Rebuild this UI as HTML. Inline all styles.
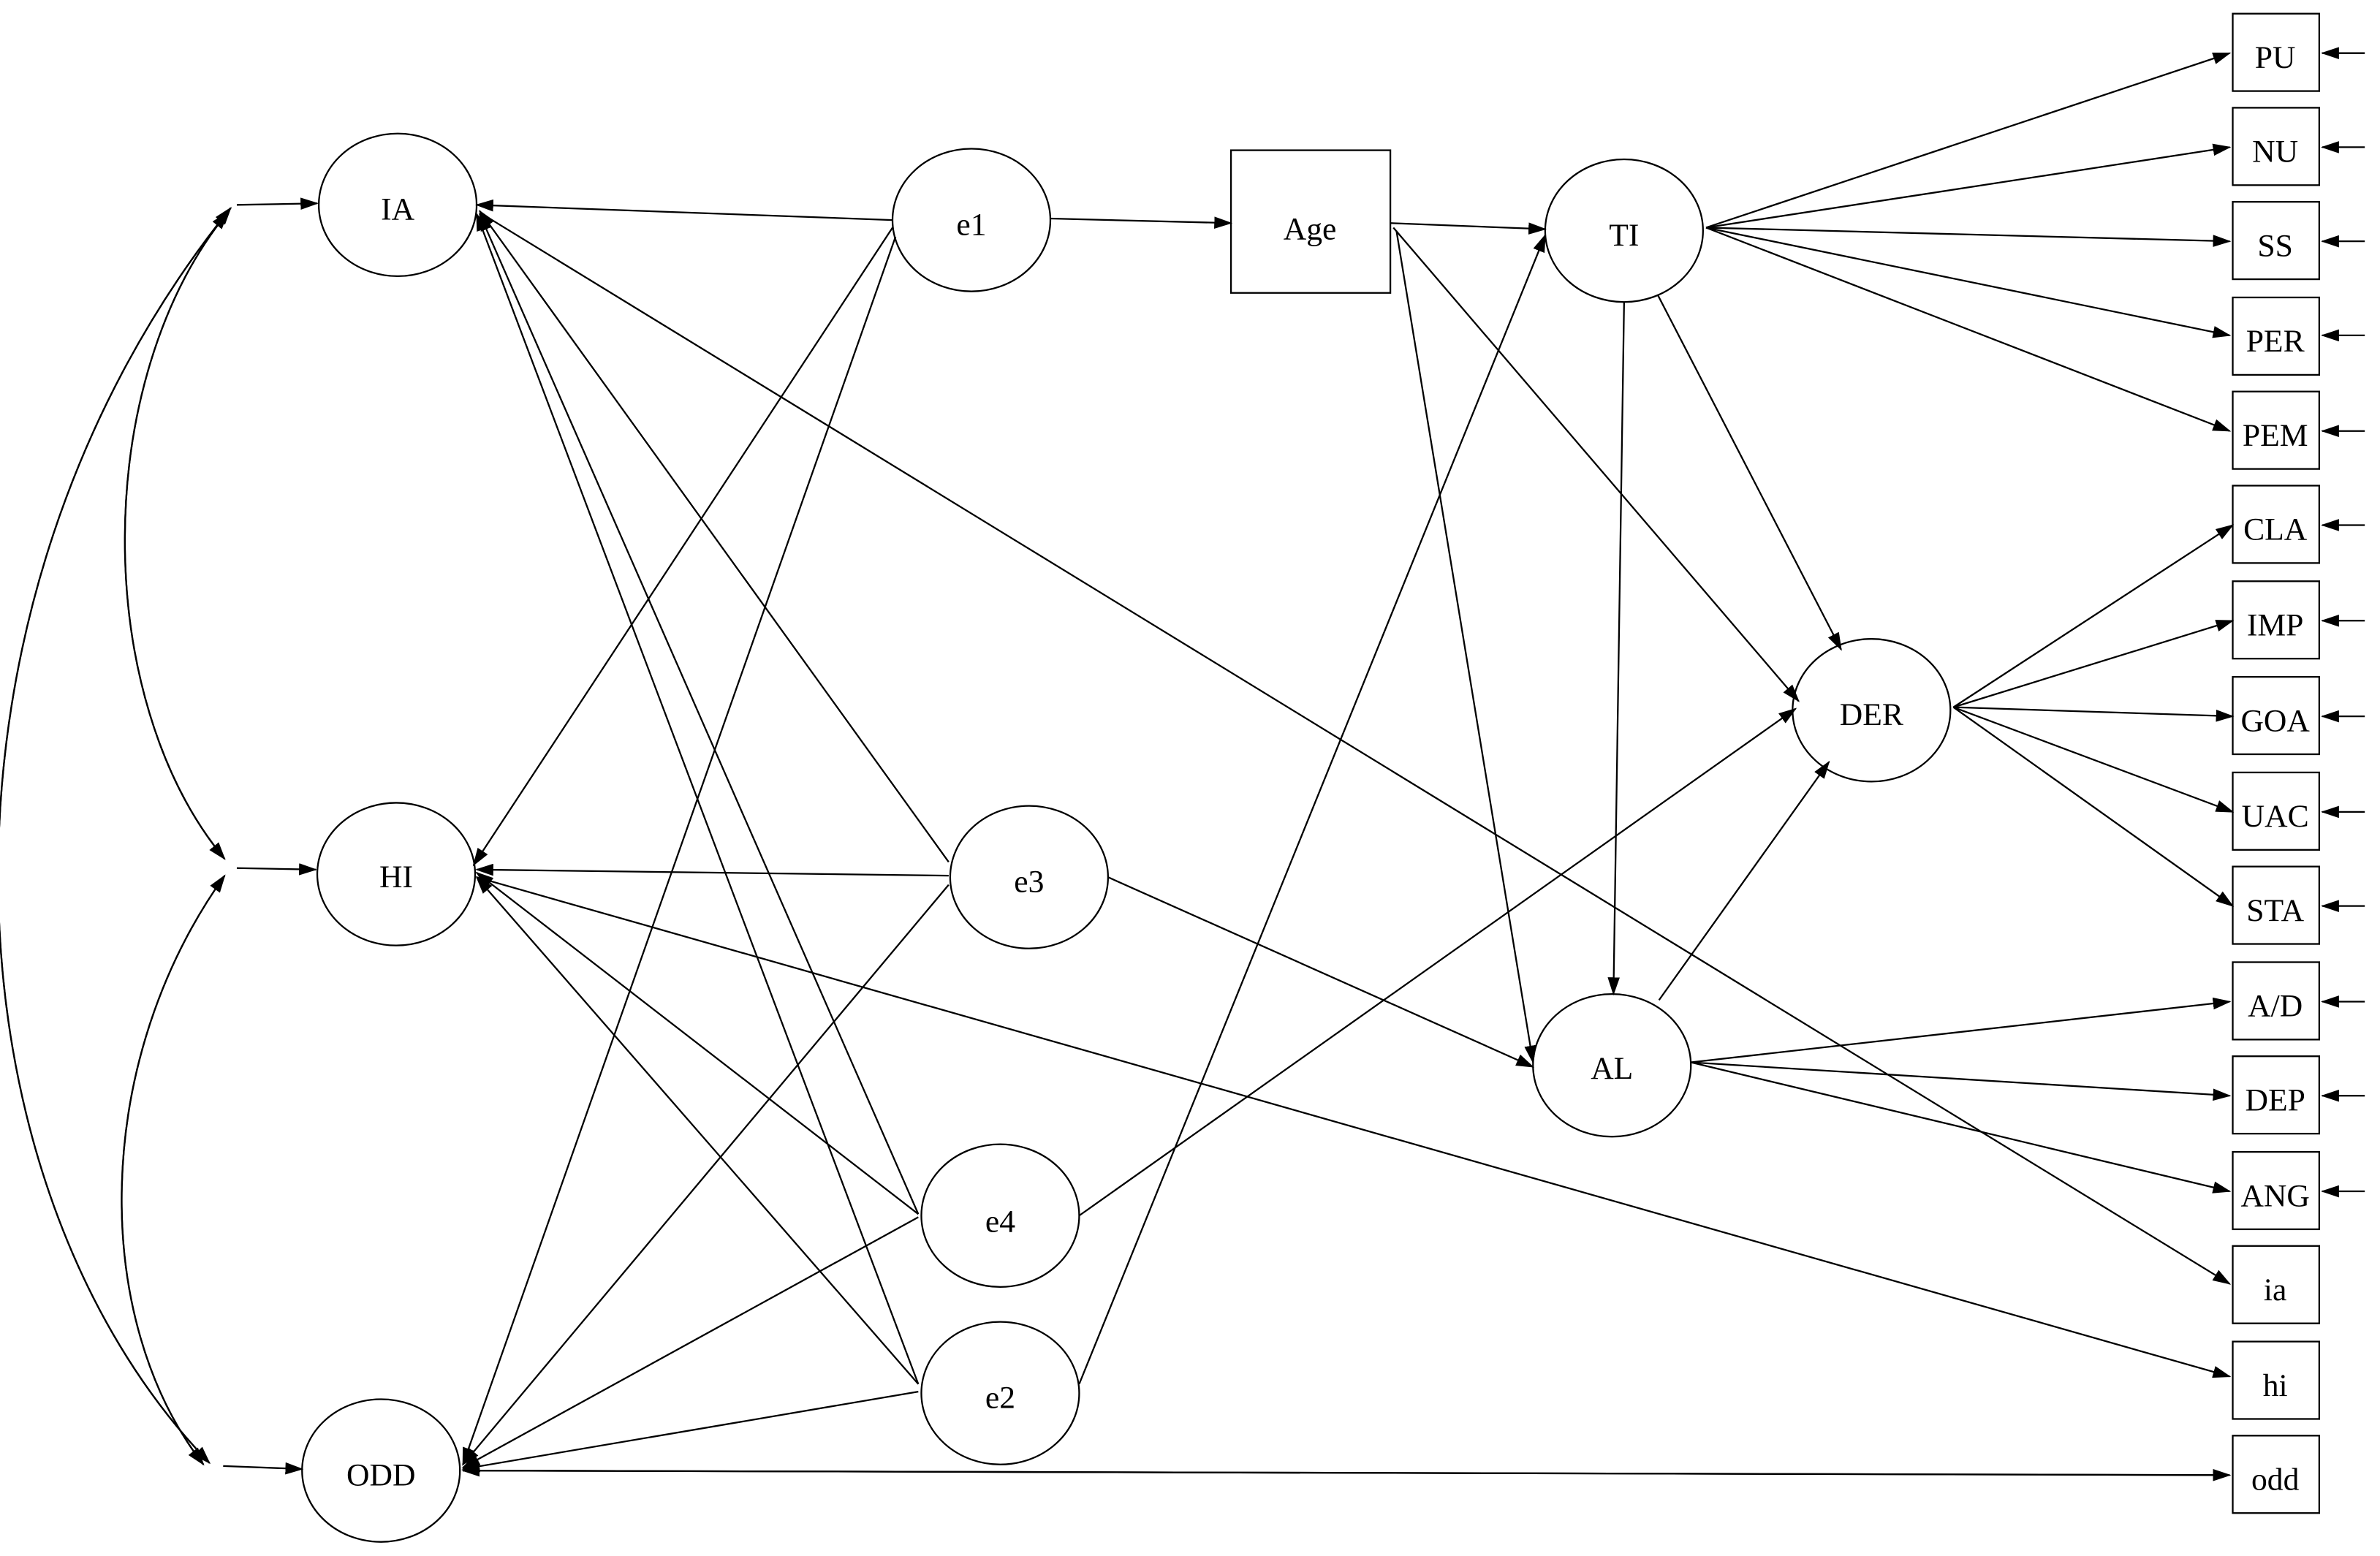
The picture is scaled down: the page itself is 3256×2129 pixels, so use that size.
<!DOCTYPE html>
<html><head><meta charset="utf-8"><style>
html,body{margin:0;padding:0;background:#fff;}
svg{display:block;}
text{font-family:"Liberation Serif",serif;font-size:21px;fill:#000;text-anchor:middle;dominant-baseline:central;}
</style></head><body>
<svg width="3256" height="2129" viewBox="0 0 1568 1025.3" xmlns="http://www.w3.org/2000/svg">
<defs><marker id="a" markerWidth="12" markerHeight="8" refX="11" refY="4" orient="auto" markerUnits="userSpaceOnUse"><path d="M0,0 L12,4 L0,8 z" fill="#000"/></marker></defs>
<rect width="1568" height="1026" fill="#fff"/>
<g fill="none" stroke="#000" stroke-width="1.1">
<ellipse cx="262" cy="135" rx="52" ry="47"/>
<ellipse cx="261" cy="576" rx="52" ry="47"/>
<ellipse cx="251" cy="969" rx="52" ry="47"/>
<ellipse cx="640" cy="145" rx="52" ry="47"/>
<rect x="811" y="99" width="105" height="94"/>
<ellipse cx="1070" cy="152" rx="52" ry="47"/>
<ellipse cx="1233" cy="468" rx="52" ry="47"/>
<ellipse cx="1062" cy="702" rx="52" ry="47"/>
<ellipse cx="678" cy="578" rx="52" ry="47"/>
<ellipse cx="659" cy="801" rx="52" ry="47"/>
<ellipse cx="659" cy="918" rx="52" ry="47"/>
<rect x="1471" y="9" width="57" height="51"/>
<rect x="1471" y="71" width="57" height="51"/>
<rect x="1471" y="133" width="57" height="51"/>
<rect x="1471" y="196" width="57" height="51"/>
<rect x="1471" y="258" width="57" height="51"/>
<rect x="1471" y="320" width="57" height="51"/>
<rect x="1471" y="383" width="57" height="51"/>
<rect x="1471" y="446" width="57" height="51"/>
<rect x="1471" y="509" width="57" height="51"/>
<rect x="1471" y="571" width="57" height="51"/>
<rect x="1471" y="634" width="57" height="51"/>
<rect x="1471" y="696" width="57" height="51"/>
<rect x="1471" y="759" width="57" height="51"/>
<rect x="1471" y="821" width="57" height="51"/>
<rect x="1471" y="884" width="57" height="51"/>
<rect x="1471" y="946" width="57" height="51"/>
</g>
<g fill="none" stroke="#000" stroke-width="1.1" marker-end="url(#a)">
<path d="M156,135 L209,134"/>
<path d="M156,572 L208,573"/>
<path d="M147,966 L199,968"/>
<path d="M148,577 C60,700 60,870 134,965"/>
<path d="M134,965 C60,870 60,700 148,577"/>
<path d="M150,140 C60,250 60,460 148,566"/>
<path d="M148,566 C60,460 60,250 150,140"/>
<path d="M152,137 C-60,400 -40,780 138,964"/>
<path d="M138,964 C-40,780 -60,400 152,137"/>
<path d="M588,145 L314,135"/>
<path d="M692,144 L811,147"/>
<path d="M588,150 L312,570"/>
<path d="M590,156 L305,965"/>
<path d="M916,147 L1018,151"/>
<path d="M918,150 L1185,462"/>
<path d="M920,152 L1010,700"/>
<path d="M1092,194 L1213,428"/>
<path d="M1070,199 L1063,655"/>
<path d="M1093,659 L1205,502"/>
<path d="M1124,150 L1469,35"/>
<path d="M1124,150 L1469,97"/>
<path d="M1124,150 L1469,159"/>
<path d="M1124,150 L1469,221"/>
<path d="M1124,150 L1469,284"/>
<path d="M1287,466 L1471,346"/>
<path d="M1287,466 L1471,409"/>
<path d="M1287,466 L1471,472"/>
<path d="M1287,466 L1471,535"/>
<path d="M1287,466 L1471,597"/>
<path d="M1114,700 L1469,660"/>
<path d="M1114,700 L1469,722"/>
<path d="M1114,700 L1469,785"/>
<path d="M625,568 L316,139"/>
<path d="M625,577 L314,573"/>
<path d="M625,583 L305,965"/>
<path d="M730,578 L1010,703"/>
<path d="M605,800 L316,141"/>
<path d="M605,800 L314,575"/>
<path d="M605,802 L305,967"/>
<path d="M711,801 L1183,467"/>
<path d="M605,912 L314,141"/>
<path d="M605,912 L314,578"/>
<path d="M605,917 L305,968"/>
<path d="M711,912 L1018,155"/>
<path d="M316,140 L1469,846"/>
<path d="M314,578 L1469,907"/>
<path d="M305,969 L1469,972"/>
<path d="M1469,972 L305,969"/>
<path d="M1558,35 L1530,35"/>
<path d="M1558,97 L1530,97"/>
<path d="M1558,159 L1530,159"/>
<path d="M1558,221 L1530,221"/>
<path d="M1558,284 L1530,284"/>
<path d="M1558,346 L1530,346"/>
<path d="M1558,409 L1530,409"/>
<path d="M1558,472 L1530,472"/>
<path d="M1558,535 L1530,535"/>
<path d="M1558,597 L1530,597"/>
<path d="M1558,660 L1530,660"/>
<path d="M1558,722 L1530,722"/>
<path d="M1558,785 L1530,785"/>
</g>
<text x="262" y="138">IA</text>
<text x="261" y="578">HI</text>
<text x="251" y="972">ODD</text>
<text x="640" y="148">e1</text>
<text x="863" y="151">Age</text>
<text x="1070" y="155">TI</text>
<text x="1233" y="471">DER</text>
<text x="1062" y="704">AL</text>
<text x="678" y="581">e3</text>
<text x="659" y="805">e4</text>
<text x="659" y="921">e2</text>
<text x="1499" y="38">PU</text>
<text x="1499" y="100">NU</text>
<text x="1499" y="162">SS</text>
<text x="1499" y="225">PER</text>
<text x="1499" y="287">PEM</text>
<text x="1499" y="349">CLA</text>
<text x="1499" y="412">IMP</text>
<text x="1499" y="475">GOA</text>
<text x="1499" y="538">UAC</text>
<text x="1499" y="600">STA</text>
<text x="1499" y="663">A/D</text>
<text x="1499" y="725">DEP</text>
<text x="1499" y="788">ANG</text>
<text x="1499" y="850">ia</text>
<text x="1499" y="913">hi</text>
<text x="1499" y="975">odd</text>
</svg>
</body></html>
